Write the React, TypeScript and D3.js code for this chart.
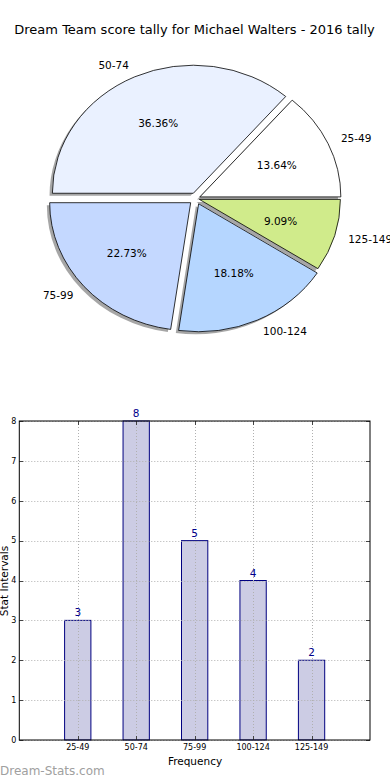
import React, { useRef, useEffect } from 'react'
import * as d3 from 'd3'

// data
const categories = ['25-49', '50-74', '75-99', '100-124', '125-149']
const counts = [3, 8, 5, 4, 2]
const sliceColors = ['#ffffff', '#eaf1ff', '#c4d8ff', '#b5d6ff', '#d0eb8b']
const explode = [0.03, 0.045, 0.05, 0.045, 0.025]
const yTicks = [0, 1, 2, 3, 4, 5, 6, 7, 8]

const FONT = 'DejaVu Sans, sans-serif'

const App = () => {
    const svgRef = useRef<SVGSVGElement>(null)

    useEffect(() => {
        document.body.style.margin = '0'
        const svg = d3.select(svgRef.current)
        svg.selectAll('*').remove()

        // title
        svg.append('text')
            .attr('x', 194.5).attr('y', 34)
            .attr('text-anchor', 'middle')
            .attr('font-family', FONT).attr('font-size', 13)
            .text('Dream Team score tally for Michael Walters - 2016 tally')

        // ---- pie (elliptical, like matplotlib with unequal aspect)
        const cx = 196, cy = 198.5, rx = 141, ry = 128
        const total = d3.sum(counts)
        const pie = d3.pie<number>().sort(null)
            .startAngle(Math.PI / 2).endAngle(Math.PI / 2 - 2 * Math.PI)
        const arcs = pie(counts)
        const arc = d3.arc<d3.PieArcDatum<number>>().innerRadius(0).outerRadius(1)

        const pieG = svg.append('g').attr('transform', `translate(${cx},${cy}) scale(${rx},${ry})`)

        arcs.forEach((a, i) => {
            const mid = (a.startAngle + a.endAngle) / 2
            const ox = explode[i] * Math.sin(mid)
            const oy = -explode[i] * Math.cos(mid)
            // shadow
            pieG.append('path')
                .attr('d', arc(a))
                .attr('transform', `translate(${ox - 0.02},${oy + 0.02})`)
                .attr('fill', '#4d4d4d')
                .attr('opacity', 0.5)
        })
        arcs.forEach((a, i) => {
            const mid = (a.startAngle + a.endAngle) / 2
            const ox = explode[i] * Math.sin(mid)
            const oy = -explode[i] * Math.cos(mid)
            pieG.append('path')
                .attr('d', arc(a))
                .attr('transform', `translate(${ox},${oy})`)
                .attr('fill', sliceColors[i])
                .attr('stroke', '#000')
                .attr('stroke-width', 0.8)
                .attr('vector-effect', 'non-scaling-stroke')
        })
        arcs.forEach((a, i) => {
            const mid = (a.startAngle + a.endAngle) / 2
            const sx = Math.sin(mid), sy = -Math.cos(mid)
            const ecx = cx + explode[i] * rx * sx
            const ecy = cy + explode[i] * ry * sy
            svg.append('text')
                .attr('x', ecx + 1.1 * rx * sx)
                .attr('y', ecy + 1.1 * ry * sy)
                .attr('dy', '0.35em')
                .attr('text-anchor', sx > 0 ? 'start' : 'end')
                .attr('font-family', FONT).attr('font-size', 10.5)
                .text(categories[i])
            svg.append('text')
                .attr('x', ecx + 0.6 * rx * sx)
                .attr('y', ecy + 0.6 * ry * sy)
                .attr('dy', '0.35em')
                .attr('text-anchor', 'middle')
                .attr('font-family', FONT).attr('font-size', 10.5)
                .text(`${(counts[i] / total * 100).toFixed(2)}%`)
        })

        // ---- bar chart
        const left = 19.3, right = 370, top = 421, bottom = 740
        const x = d3.scaleLinear().domain([0, 6]).range([left, right])
        const y = d3.scaleLinear().domain([0, 8]).range([bottom, top])
        const barW = 0.45

        const bars = svg.append('g')
        bars.selectAll('rect')
            .data(counts)
            .join('rect')
            .attr('x', (d, i) => x(i + 1 - barW / 2))
            .attr('width', x(barW) - x(0))
            .attr('y', d => y(d))
            .attr('height', d => y(0) - y(d))
            .attr('fill', '#ccccE4')
            .attr('stroke', '#000080')
            .attr('stroke-width', 1)

        // grid
        const grid = svg.append('g')
            .attr('stroke', '#b0b0b0').attr('stroke-width', 1)
            .attr('stroke-dasharray', '1,2')
        yTicks.forEach(t => {
            grid.append('line')
                .attr('x1', left).attr('x2', right)
                .attr('y1', Math.round(y(t)) + 0.5).attr('y2', Math.round(y(t)) + 0.5)
        })
        categories.forEach((c, i) => {
            grid.append('line')
                .attr('x1', Math.round(x(i + 1)) + 0.5).attr('x2', Math.round(x(i + 1)) + 0.5)
                .attr('y1', top).attr('y2', bottom)
        })

        // value labels
        svg.append('g').selectAll('text')
            .data(counts)
            .join('text')
            .attr('x', (d, i) => x(i + 1))
            .attr('y', d => y(d) - 4)
            .attr('text-anchor', 'middle')
            .attr('font-family', FONT).attr('font-size', 10.5)
            .attr('fill', '#00008b')
            .text(d => d)

        // ticks (inward, all sides)
        const ticks = svg.append('g').attr('stroke', '#444').attr('stroke-width', 1)
        yTicks.forEach(t => {
            const yy = Math.round(y(t)) + 0.5
            ticks.append('line').attr('x1', left).attr('x2', left + 4).attr('y1', yy).attr('y2', yy)
            ticks.append('line').attr('x1', right - 4).attr('x2', right).attr('y1', yy).attr('y2', yy)
        })
        categories.forEach((c, i) => {
            const xx = Math.round(x(i + 1)) + 0.5
            ticks.append('line').attr('x1', xx).attr('x2', xx).attr('y1', bottom).attr('y2', bottom - 4)
            ticks.append('line').attr('x1', xx).attr('x2', xx).attr('y1', top).attr('y2', top + 4)
        })

        // frame
        svg.append('rect')
            .attr('x', left).attr('y', top)
            .attr('width', right - left).attr('height', bottom - top)
            .attr('fill', 'none').attr('stroke', '#000').attr('stroke-width', 1)

        // tick labels
        svg.append('g').selectAll('text')
            .data(yTicks)
            .join('text')
            .attr('x', left - 3)
            .attr('y', d => y(d))
            .attr('dy', '0.35em')
            .attr('text-anchor', 'end')
            .attr('font-family', FONT).attr('font-size', 8)
            .text(d => d)
        svg.append('g').selectAll('text')
            .data(categories)
            .join('text')
            .attr('x', (d, i) => x(i + 1))
            .attr('y', 750)
            .attr('text-anchor', 'middle')
            .attr('font-family', FONT).attr('font-size', 8)
            .text(d => d)

        // axis titles
        svg.append('text')
            .attr('x', 195).attr('y', 765)
            .attr('text-anchor', 'middle')
            .attr('font-family', FONT).attr('font-size', 10.5)
            .text('Frequency')
        svg.append('text')
            .attr('transform', 'translate(8,581) rotate(-90)')
            .attr('text-anchor', 'middle')
            .attr('font-family', FONT).attr('font-size', 10.5)
            .text('Stat Intervals')

        // watermark
        svg.append('text')
            .attr('x', 0).attr('y', 775)
            .attr('font-family', FONT).attr('font-size', 12)
            .attr('fill', '#a0a0a0')
            .text('Dream-Stats.com')
    }, [])

    return (
        <svg ref={svgRef} width={390} height={780} style={{ display: 'block', background: 'white' }}></svg>
    )
}

export default App
